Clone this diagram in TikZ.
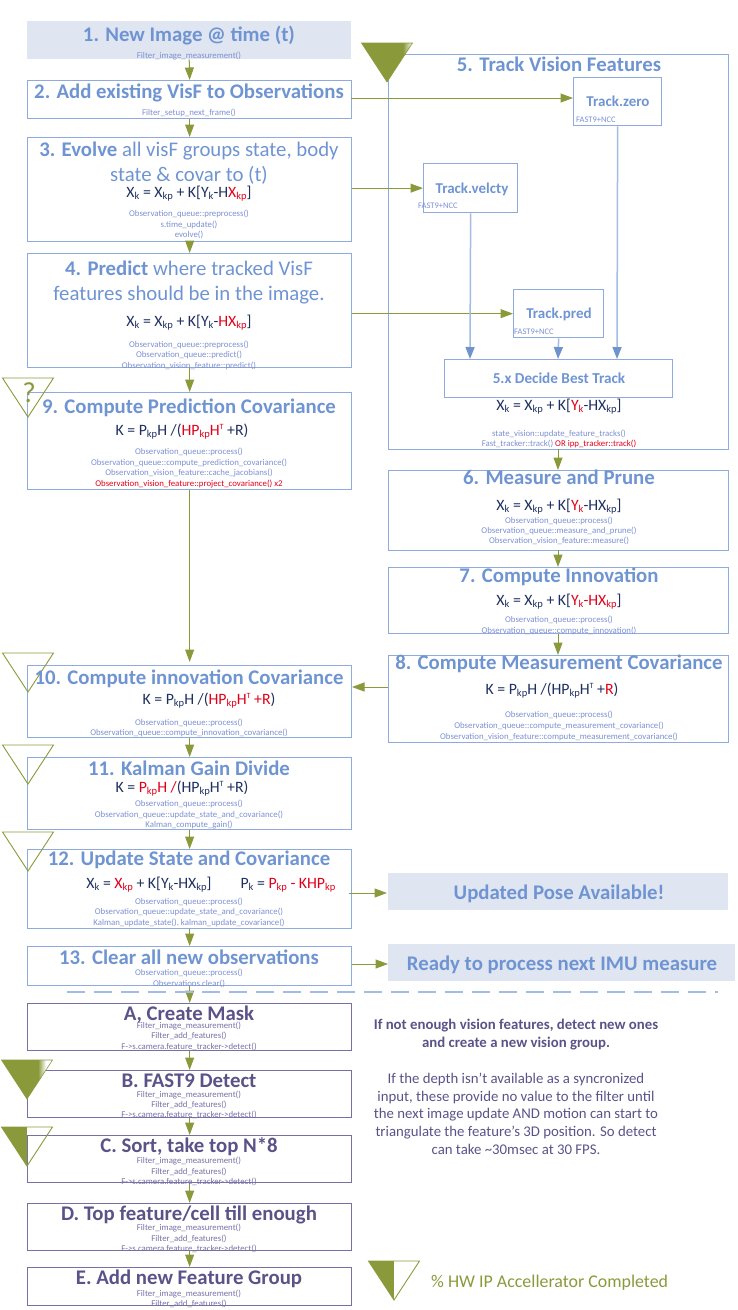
\documentclass[tikz,border=0pt]{standalone}
\usepackage{fontspec}
\setmainfont{Carlito}
\usetikzlibrary{arrows.meta}
\definecolor{hb}{HTML}{6F94D2}
\definecolor{bord}{HTML}{8FAADC}
\definecolor{arrb}{HTML}{6F93CB}
\definecolor{linb}{HTML}{A3BCE3}
\definecolor{pale}{HTML}{E0E5F2}
\definecolor{olv}{HTML}{8A9A3B}
\definecolor{codeb}{HTML}{7C90D0}
\definecolor{purp}{HTML}{5B5288}
\definecolor{purb}{HTML}{7A6FA5}
\definecolor{navy}{HTML}{1F3060}
\definecolor{redd}{HTML}{E0001A}
\newcommand{\fs}[1]{\fontsize{#1}{#1}\selectfont}
\newcommand{\sbk}[1]{\raisebox{-2pt}{\fontsize{10.5}{10.5}\selectfont #1}}
\newcommand{\R}[1]{\textcolor{redd}{#1}}
\newcommand{\Tsup}{\raisebox{6pt}{\fontsize{8}{8}\selectfont T}}
\newcommand{\trio}[3]{% tip x, tip y, fill right edge offset
  \begin{scope}[shift={(#1,#2)}]
    \ifnum#3>0
    \begin{scope}
      \clip (-25.5,-39) -- (25.5,-39) -- (0,0) -- cycle;
      \fill[olv] (-26,-40) rectangle (#3-26,1);
    \end{scope}
    \fi
    \draw[olv,line width=0.9pt,line join=miter] (-25.5,-39) -- (25.5,-39) -- (0,0) -- cycle;
  \end{scope}}
\tikzset{
  boxb/.style={draw=bord,line width=1.3pt,rectangle,inner sep=0pt,anchor=north west},
  boxp/.style={draw=purb,line width=1.3pt,rectangle,inner sep=0pt,anchor=north west},
  palebox/.style={fill=pale,rectangle,inner sep=0pt,anchor=north west},
  head/.style={text=hb,font=\bfseries,inner sep=0pt,anchor=base,yshift=-7pt},
  headp/.style={text=purp,font=\bfseries,inner sep=0pt,anchor=base,yshift=-7pt},
  fm/.style={text=navy,font=\fs{15.8},inner sep=0pt,anchor=base,yshift=-5pt},
  code/.style={text=codeb,font=\fs{8.8},inner sep=0pt,anchor=base,yshift=-3pt},
  codep/.style={text=purb,font=\fs{8.8},inner sep=0pt,anchor=base,yshift=-3pt},
  tag/.style={text=codeb,font=\fs{8.5},inner sep=0pt,anchor=base west,yshift=-3pt},
  para/.style={inner sep=0pt,text=purp,font=\fs{14.8},anchor=base,yshift=-5pt},
  ga/.style={draw=olv,line width=1pt,-{Triangle[length=12.5pt,width=9pt]}},
  ba/.style={draw=linb,line width=1.5pt,-{Triangle[length=12pt,width=9pt,color=arrb]}},
}
\begin{document}
\begin{tikzpicture}[x=1pt,y=-1pt]
\useasboundingbox (0,0) rectangle (737,1310);
% boxes
\node[palebox,minimum width=324pt,minimum height=38pt] (n1) at (27,21) {};
\node[boxb,minimum width=324pt,minimum height=38pt] (n2) at (27,80) {};
\node[boxb,minimum width=324pt,minimum height=104pt] (n3) at (27,137) {};
\node[boxb,minimum width=324pt,minimum height=114pt] (n4) at (27,253) {};
\node[boxb,minimum width=324pt,minimum height=97pt] (n9) at (27,392) {};
\node[boxb,minimum width=324pt,minimum height=72pt] (n10) at (27,665) {};
\node[boxb,minimum width=324pt,minimum height=72pt] (n11) at (27,757) {};
\node[boxb,minimum width=324pt,minimum height=79pt] (n12) at (27,849) {};
\node[boxb,minimum width=324pt,minimum height=39pt] (n13) at (27,946) {};
\node[boxp,minimum width=324pt,minimum height=47pt] (na) at (27,1003) {};
\node[boxp,minimum width=324pt,minimum height=47pt] (nb) at (27,1070) {};
\node[boxp,minimum width=324pt,minimum height=47pt] (nc) at (27,1135) {};
\node[boxp,minimum width=324pt,minimum height=47pt] (nd) at (27,1203) {};
\node[boxp,minimum width=324pt,minimum height=38pt] (ne) at (27,1267) {};
\node[boxb,minimum width=340pt,minimum height=395pt] (n5) at (388,54) {};
\node[boxb,minimum width=88pt,minimum height=48pt] (tz) at (573,77) {};
\node[boxb,minimum width=94pt,minimum height=49pt] (tv) at (423,163) {};
\node[boxb,minimum width=90pt,minimum height=48pt] (tp) at (513,289) {};
\node[boxb,minimum width=228pt,minimum height=38pt] (n5x) at (444,359) {};
\node[boxb,minimum width=340pt,minimum height=80pt] (n6) at (388,470) {};
\node[boxb,minimum width=340pt,minimum height=66pt] (n7) at (388,567) {};
\node[boxb,minimum width=340pt,minimum height=87pt] (n8) at (388,655) {};
\node[palebox,minimum width=340pt,minimum height=37pt] (up) at (388,873) {};
\node[palebox,minimum width=347pt,minimum height=37pt] (rd) at (388,944) {};
% connectors
\draw[ga] (n1.south) -- (n2.north);
\draw[ga] (n2.south) -- (n3.north);
\draw[ga] (n3.south) -- (n4.north);
\draw[ga] (n4.south) -- (n9.north);
\draw[ga] (n9.south) -- ([yshift=3pt]n10.north);
\draw[ga] (n10.south) -- (n11.north);
\draw[ga] (n11.south) -- (n12.north);
\draw[ga] (n12.south) -- (n13.north);
\draw[ga] (n13.south) -- (na.north);
\draw[ga] (na.south) -- (nb.north);
\draw[ga] (nb.south) -- (nc.north);
\draw[ga] (nc.south) -- (nd.north);
\draw[ga] (nd.south) -- (ne.north);
\coordinate (c2z) at (351,98);
\coordinate (z2) at (573,98);
\draw[ga] (c2z) -- (z2);
\draw[ga] (n3.east |- tv.west) -- (tv.west);
\draw[ga] (n4.east |- tp.west) -- (tp.west);
\coordinate (s6) at (558,449);
\coordinate (e6) at (558,470);
\draw[ga] (s6) -- (e6);
\coordinate (s7) at (558,550);
\coordinate (e7) at (558,567);
\draw[ga] (s7) -- (e7);
\coordinate (s8) at (558,634);
\coordinate (e8) at (558,655);
\draw[ga] (s8) -- (e8);
\coordinate (s10) at (388,687);
\coordinate (e10) at (352,687);
\draw[ga] (s10) -- (e10);
\coordinate (s12) at (349,893);
\coordinate (e12) at (387,893);
\draw[ga] (s12) -- (e12);
\coordinate (s13) at (352,964);
\coordinate (e13) at (388,964);
\draw[ga] (s13) -- (e13);
\coordinate (tvb) at (470,359);
\coordinate (tzb) at (617,359);
\coordinate (tpb) at (558,359);
\draw[ba] (tv.south) -- (tvb);
\draw[ba] (tz.south) -- (tzb);
\draw[ba] (tp.south) -- (tpb);
\coordinate (da) at (67,992);
\coordinate (db) at (718,992);
\draw[linb,line width=1.2pt,dash pattern=on 18pt off 9pt] (da) -- (db);
% triangles
\begin{scope}[shift={(387,82)}]
  \begin{scope}
    \clip (-25.5,-39) -- (25.5,-39) -- (0,0) -- cycle;
    \fill[olv] (-26,-40) rectangle (16,1);
    \shade[left color=olv,right color=white,shading angle=90] (16,-40) rectangle (26,1);
  \end{scope}
  \draw[olv,line width=0.6pt] (-25.5,-39) -- (25.5,-39) -- (0,0) -- cycle;
\end{scope}
\trio{28}{417}{0}
\trio{28}{692}{0}
\trio{28}{784}{0}
\trio{28}{871}{0}
\begin{scope}[shift={(27,1099)}]
  \begin{scope}
    \clip (-25.5,-39) -- (25.5,-39) -- (0,0) -- cycle;
    \fill[olv] (-26,-40) rectangle (11,1);
    \shade[left color=olv,right color=white,shading angle=90] (11,-40) rectangle (19,1);
  \end{scope}
  \draw[olv,line width=0.6pt] (-25.5,-39) -- (25.5,-39) -- (0,0) -- cycle;
\end{scope}
\trio{27}{1166}{26}
\trio{394}{1300}{26}
\node[inner sep=0pt,text=olv,font=\fs{29},anchor=base,yshift=-10pt] (qm) at (29,392) {?};
% headings
\node[head,font=\bfseries\fs{20.8}] (h1) at (189,34) {1. New Image @ time (t)};
\node[code] (c1) at (189,55) {Filter\_image\_measurement()};
\node[head,font=\bfseries\fs{20.8}] (h2) at (189,91) {2. Add existing VisF to Observations};
\node[code] (c2) at (189,112) {Filter\_setup\_next\_frame()};
\node[head,font=\fs{20.8}] (h3a) at (189,149) {\textbf{3. Evolve} all visF groups state, body};
\node[head,font=\fs{20.8}] (h3b) at (189,174) {state \& covar to (t)};
\node[fm] (f3) at (189,192) {X\sbk{k} = X\sbk{kp} + K[Y\sbk{k}-H\R{X\sbk{kp}}]};
\node[code] (c3a) at (189,213) {Observation\_queue::preprocess()};
\node[code] (c3b) at (189,224) {s.time\_update()};
\node[code] (c3c) at (189,234) {evolve()};
\node[head,font=\fs{20.8}] (h4a) at (189,268) {\textbf{4. Predict} where tracked VisF};
\node[head,font=\fs{20.8}] (h4b) at (189,293) {features should be in the image.};
\node[fm] (f4) at (189,321) {X\sbk{k} = X\sbk{kp} + K[Y\sbk{k}-\R{HX\sbk{kp}}]};
\node[code] (c4a) at (189,344) {Observation\_queue::preprocess()};
\node[code] (c4b) at (189,354) {Observation\_queue::predict()};
\node[code] (c4c) at (189,365) {Observation\_vision\_feature::predict()};
\node[head,font=\bfseries\fs{20.8}] (h9) at (189,406) {9. Compute Prediction Covariance};
\node[fm] (f9) at (182,430) {K = P\sbk{kp}H /(\R{HP\sbk{kp}H\Tsup} +R)};
\node[code] (c9a) at (189,451) {Observation\_queue::process()};
\node[code] (c9b) at (189,462) {Observation\_queue::compute\_prediction\_covariance()};
\node[code] (c9c) at (189,472) {Observation\_vision\_feature::cache\_jacobians()};
\node[code,text=redd] (c9d) at (189,483) {Observation\_vision\_feature::project\_covariance() x2};
\node[head,font=\bfseries\fs{20.8}] (h10) at (189,677) {10. Compute innovation Covariance};
\node[fm] (f10) at (209,699) {K = P\sbk{kp}H /(\R{HP\sbk{kp}H\Tsup{} +R})};
\node[code] (c10a) at (189,722) {Observation\_queue::process()};
\node[code] (c10b) at (189,732) {Observation\_queue::compute\_innovation\_covariance()};
\node[head,font=\bfseries\fs{20.8}] (h11) at (189,768) {11. Kalman Gain Divide};
\node[fm] (f11) at (182,787) {K = \R{P\sbk{kp}H /}(HP\sbk{kp}H\Tsup{} +R)};
\node[code] (c11a) at (189,803) {Observation\_queue::process()};
\node[code] (c11b) at (189,814) {Observation\_queue::update\_state\_and\_covariance()};
\node[code] (c11c) at (189,824) {Kalman\_compute\_gain()};
\node[head,font=\bfseries\fs{20.8}] (h12) at (189,858) {12. Update State and Covariance};
\node[fm] (f12a) at (149,883) {X\sbk{k} = \R{X\sbk{kp}} + K[Y\sbk{k}-HX\sbk{kp}]};
\node[fm] (f12b) at (288,883) {P\sbk{k} = \R{P\sbk{kp} - KHP\sbk{kp}}};
\node[code] (c12a) at (189,901) {Observation\_queue::process()};
\node[code] (c12b) at (189,911) {Observation\_queue::update\_state\_and\_covariance()};
\node[code] (c12c) at (189,922) {Kalman\_update\_state(), kalman\_update\_covariance()};
\node[head,font=\bfseries\fs{20.8}] (h13) at (189,957) {13. Clear all new observations};
\node[code] (c13a) at (189,972) {Observation\_queue::process()};
\node[code] (c13b) at (189,983) {Observations.clear()};
\node[headp,font=\bfseries\fs{20.8}] (ha) at (189,1013) {A, Create Mask};
\node[codep] (ca1) at (189,1025) {Filter\_image\_measurement()};
\node[codep] (ca2) at (189,1035) {Filter\_add\_features()};
\node[codep] (ca3) at (189,1046) {F->s.camera.feature\_tracker->detect()};
\node[headp,font=\bfseries\fs{20.8}] (hb) at (189,1080) {B. FAST9 Detect};
\node[codep] (cb1) at (189,1094) {Filter\_image\_measurement()};
\node[codep] (cb2) at (189,1104) {Filter\_add\_features()};
\node[codep] (cb3) at (189,1114) {F->s.camera.feature\_tracker->detect()};
\node[headp,font=\bfseries\fs{20.8}] (hc) at (189,1145) {C. Sort, take top N*8};
\node[codep] (cc1) at (189,1160) {Filter\_image\_measurement()};
\node[codep] (cc2) at (189,1171) {Filter\_add\_features()};
\node[codep] (cc3) at (189,1181) {F->s.camera.feature\_tracker->detect()};
\node[headp,font=\bfseries\fs{20.8}] (hd) at (189,1213) {D. Top feature/cell till enough};
\node[codep] (cd1) at (189,1227) {Filter\_image\_measurement()};
\node[codep] (cd2) at (189,1238) {Filter\_add\_features()};
\node[codep] (cd3) at (189,1248) {F->s.camera.feature\_tracker->detect()};
\node[headp,font=\bfseries\fs{20.8}] (he) at (189,1277) {E. Add new Feature Group};
\node[codep] (ce1) at (189,1293) {Filter\_image\_measurement()};
\node[codep] (ce2) at (189,1303) {Filter\_add\_features()};
% right column
\node[head,font=\bfseries\fs{20.8}] (h5) at (559,64) {5. Track Vision Features};
\node[head,font=\bfseries\fs{15},yshift=2pt] (lz) at (618,101) {Track.zero};
\node[tag] (tgz) at (576,119) {FAST9+NCC};
\node[head,font=\bfseries\fs{15},yshift=2pt] (lv) at (472,188) {Track.velcty};
\node[tag] (tgv) at (418,205) {FAST9+NCC};
\node[head,font=\bfseries\fs{15},yshift=2pt] (lp) at (559,313) {Track.pred};
\node[tag] (tgp) at (514,331) {FAST9+NCC};
\node[head,font=\bfseries\fs{15.2},yshift=2pt] (l5x) at (559,378) {5.x Decide Best Track};
\node[fm] (f5) at (559,405) {X\sbk{k} = X\sbk{kp} + K[\R{Y\sbk{k}}-HX\sbk{kp}]};
\node[code] (c5a) at (559,433) {state\_vision::update\_feature\_tracks()};
\node[code] (c5b) at (559,443) {Fast\_tracker::track() \R{OR ipp\_tracker::track()}};
\node[head,font=\bfseries\fs{20.8}] (h6) at (559,477) {6. Measure and Prune};
\node[fm] (f6) at (559,505) {X\sbk{k} = X\sbk{kp} + K[\R{Y\sbk{k}}-HX\sbk{kp}]};
\node[code] (c6a) at (559,520) {Observation\_queue::process()};
\node[code] (c6b) at (559,530) {Observation\_queue::measure\_and\_prune()};
\node[code] (c6c) at (559,540) {Observation\_vision\_feature::measure()};
\node[head,font=\bfseries\fs{20.8}] (h7) at (559,575) {7. Compute Innovation};
\node[fm] (f7) at (559,600) {X\sbk{k} = X\sbk{kp} + K[\R{Y\sbk{k}-HX\sbk{kp}}]};
\node[code] (c7a) at (559,619) {Observation\_queue::process()};
\node[code] (c7b) at (559,630) {Observation\_queue::compute\_innovation()};
\node[head,font=\bfseries\fs{20.8}] (h8) at (559,662) {8. Compute Measurement Covariance};
\node[fm] (f8) at (552,689) {K = P\sbk{kp}H /(HP\sbk{kp}H\Tsup{} +\R{R})};
\node[code] (c8a) at (559,714) {Observation\_queue::process()};
\node[code] (c8b) at (559,725) {Observation\_queue::compute\_measurement\_covariance()};
\node[code] (c8c) at (559,736) {Observation\_vision\_feature::compute\_measurement\_covariance()};
\node[head,font=\bfseries\fs{20.8}] (tu) at (559,892) {Updated Pose Available!};
\node[head,font=\bfseries\fs{20.8}] (tr) at (562,963) {Ready to process next IMU measure};
\node[para,font=\bfseries\fs{14.8}] (p1a) at (516,1024) {If not enough vision features, detect new ones};
\node[para,font=\bfseries\fs{14.8}] (p1b) at (516,1042) {and create a new vision group.};
\node[para] (p2a) at (516,1078) {If the depth isn’t available as a syncronized};
\node[para] (p2b) at (516,1096) {input, these provide no value to the filter until};
\node[para] (p2c) at (516,1113) {the next image update AND motion can start to};
\node[para] (p2d) at (516,1131) {triangulate the feature’s 3D position. So detect};
\node[para] (p2e) at (516,1149) {can take \textasciitilde30msec at 30 FPS.};
\node[inner sep=0pt,text=olv,font=\fs{17.9},anchor=base west,yshift=-6pt] (lg) at (431,1281) {\% HW IP Accellerator Completed};
\end{tikzpicture}
\end{document}
